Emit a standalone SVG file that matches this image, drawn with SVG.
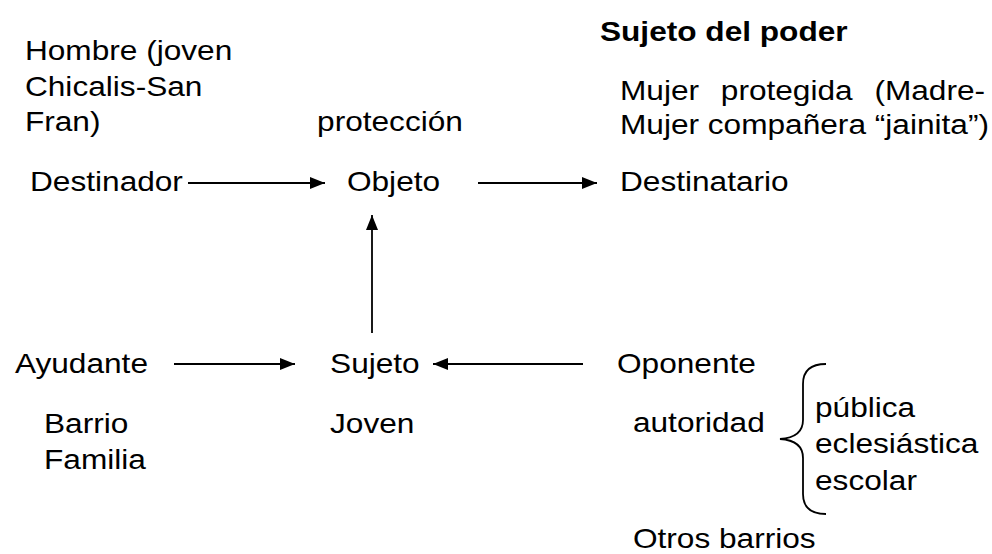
<svg xmlns="http://www.w3.org/2000/svg" width="992" height="554" viewBox="0 0 992 554">
<style>
text{font-family:"Liberation Sans",Arial,sans-serif;font-size:27.5px;fill:#000}
.b{font-weight:bold}
.ln{stroke:#000;stroke-width:1.8;fill:none}
</style>
<defs>
<marker id="ah" markerUnits="userSpaceOnUse" markerWidth="15" markerHeight="12" refX="15" refY="6" orient="auto">
<path d="M0,0 L15,6 L0,12 z" fill="#000"/>
</marker>
</defs>
<rect width="992" height="554" fill="#fff"/>
<g transform="scale(1.15,1)">
<g id="destinador"><text x="21.7" y="60">Hombre (joven</text><text x="21.7" y="96">Chicalis-San</text><text x="21.7" y="131">Fran)</text><text x="26.1" y="191">Destinador</text></g>
<g id="objeto"><text x="275.7" y="131">protección</text><text x="301.7" y="191">Objeto</text></g>
<g id="destinatario"><text x="521.7" y="41" class="b">Sujeto del poder</text><text x="539.1" y="100" word-spacing="11.3">Mujer protegida (Madre-</text><text x="539.1" y="134">Mujer compañera “jainita”)</text><text x="539.1" y="191">Destinatario</text></g>
<g id="ayudante"><text x="13" y="373">Ayudante</text><text x="38.3" y="433">Barrio</text><text x="38.3" y="469">Familia</text></g>
<g id="sujeto"><text x="287" y="373">Sujeto</text><text x="287" y="433">Joven</text></g>
<g id="oponente"><text x="536.5" y="373">Oponente</text><text x="550.4" y="432">autoridad</text><text x="708.7" y="417">pública</text><text x="708.7" y="453">eclesiástica</text><text x="708.7" y="490">escolar</text><text x="550.4" y="548">Otros barrios</text></g>
</g>
<g id="connectors">
<line class="ln" x1="188" y1="183" x2="325" y2="183" marker-end="url(#ah)"/>
<line class="ln" x1="478" y1="183" x2="597" y2="183" marker-end="url(#ah)"/>
<line class="ln" x1="372" y1="333" x2="372" y2="215" marker-end="url(#ah)"/>
<line class="ln" x1="174" y1="364" x2="295" y2="364" marker-end="url(#ah)"/>
<line class="ln" x1="583" y1="364" x2="433" y2="364" marker-end="url(#ah)"/>
<path id="brace" class="ln" d="M826,364 C812,364 803,370 803,384 L803,420 C803,432 795,438 780,439 C795,440 803,446 803,458 L803,494 C803,508 812,514 826,514"/>
</g>
</svg>
